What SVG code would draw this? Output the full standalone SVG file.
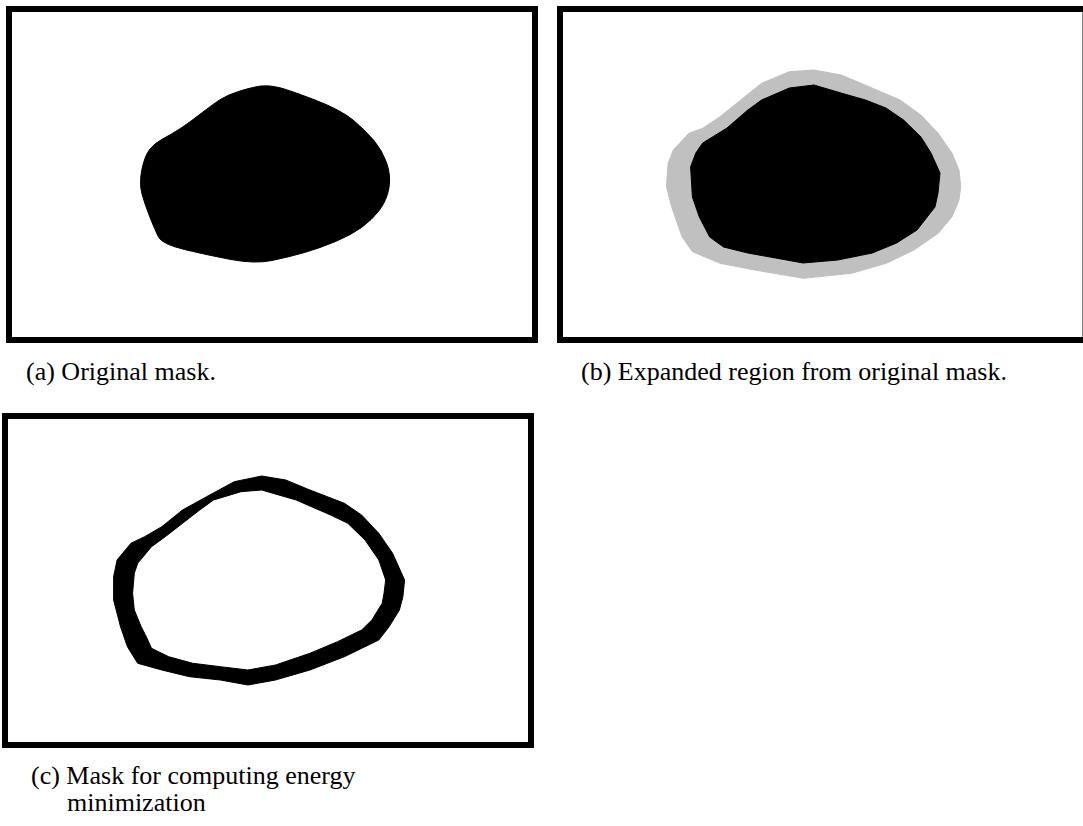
<svg xmlns="http://www.w3.org/2000/svg" width="1083" height="826" viewBox="0 0 1083 826">
<style>
.frame{fill:#fff;stroke:#000;stroke-width:6}
.mask{fill:#000;stroke:#000;stroke-width:1;stroke-linejoin:round}
.halo{fill:#c0c0c0;stroke:#c0c0c0;stroke-width:1;stroke-linejoin:round}
.cap{font-family:"Liberation Serif","Times New Roman",serif;font-size:26px;fill:#000}
</style>
<rect x="0" y="0" width="1083" height="826" fill="#fff"/>
<g id="panel-a">
<rect class="frame" x="9" y="9" width="526" height="331"/>
<path class="mask" d="M261,86 Q269,85 279,87.5 Q289,90 315,100 Q341,110 353,120 Q365,130 373.5,140 Q382,150 386.5,162.5 Q391,175 389,187.5 Q387,200 379.5,210 Q372,220 361.5,227.5 Q351,235 335.5,241.5 Q320,248 304.5,252.5 Q289,257 272,260.5 Q255,264 231,259.5 Q207,255 184.5,249.5 Q162,244 158.5,237 Q155,230 150,217.5 Q145,205 142,194 Q139,183 142,169 Q145,155 150,149 Q155,143 162.5,139 Q170,135 178,130 Q186,125 199,115 Q212,105 219.5,100 Q227,95 240,91 Q253,87 261,86 Z"/>
<text class="cap" x="26" y="380">(a) Original mask.</text>
</g>
<g id="panel-b">
<rect class="frame" x="560" y="9" width="525.5" height="331"/>
<polygon class="halo" points="814,70 841.2,75 869,86.7 900.1,100 920.9,115 938.2,133.3 952,153.3 959,170 960.7,186.7 959,200 952,216.7 938.2,233.3 914,250 886.3,263.3 851.6,273.3 803.2,278.3 754.7,270 720,263.3 692.4,251.7 682,236.7 678.5,226.7 671.6,206.7 666.4,186.7 668.1,163.3 673.3,150 688.9,133.3 702.7,128.3 720,116.7 740.8,100 761.6,83.3 789.3,71.7"/>
<polygon class="mask" points="814,85 841,93 865.5,100 886,108 903.6,120 921,137 931,153 940,173 938,193 935,207 917,230 896.6,243 872.4,253 837.8,260 803,263 775.5,258 747.8,253 723.5,247 709.7,237 699.3,217 692.4,197 690.6,167 695.8,153 702.7,143 727,128 747.8,110 761.6,100 789.3,88"/>
<text class="cap" x="581" y="380">(b) Expanded region from original mask.</text>
</g>
<g id="panel-c">
<rect class="frame" x="5" y="416" width="526" height="329"/>
<path fill="#000" fill-rule="evenodd" stroke="#000" stroke-width="1" stroke-linejoin="round" d="M261.7,476 L285.8,480 L309.9,490 L344.4,503.3 L361.6,515 L378.8,533.3 L392.6,553.3 L404.6,580 L402.9,596.7 L399.4,610 L389.1,626.7 L378.8,640 L344.4,656.7 L309.9,670 L275.5,680 L247.9,685 L220.4,680 L189.4,676.7 L161.8,670 L137.7,663.3 L127.4,646.7 L120.5,626.7 L113.6,600 L113.6,576.7 L117.1,560 L130.9,543.3 L144.6,536.7 L161.8,526.7 L182.5,510 L206.6,496.7 L234.2,481.7 Z M261.7,490 L296.1,500 L330.6,515 L347.8,523.3 L365,540 L378.8,560 L385.7,580 L384,593.3 L382.2,603.3 L371.9,620 L361.6,630 L337.5,641.7 L309.9,653.3 L275.5,665 L247.9,670 L220.4,666.7 L192.8,663.3 L168.7,656.7 L151.5,648.3 L146.3,636.7 L141.2,626.7 L134.3,610 L132.6,593.3 L134.3,573.3 L137.7,563.3 L151.5,546.7 L165.3,536.7 L182.5,523.3 L199.7,510 L213.5,500 L241,491.7 Z"/>
<text class="cap" x="31" y="784">(c) Mask for computing energy</text>
<text class="cap" x="67" y="811">minimization</text>
</g>
</svg>
